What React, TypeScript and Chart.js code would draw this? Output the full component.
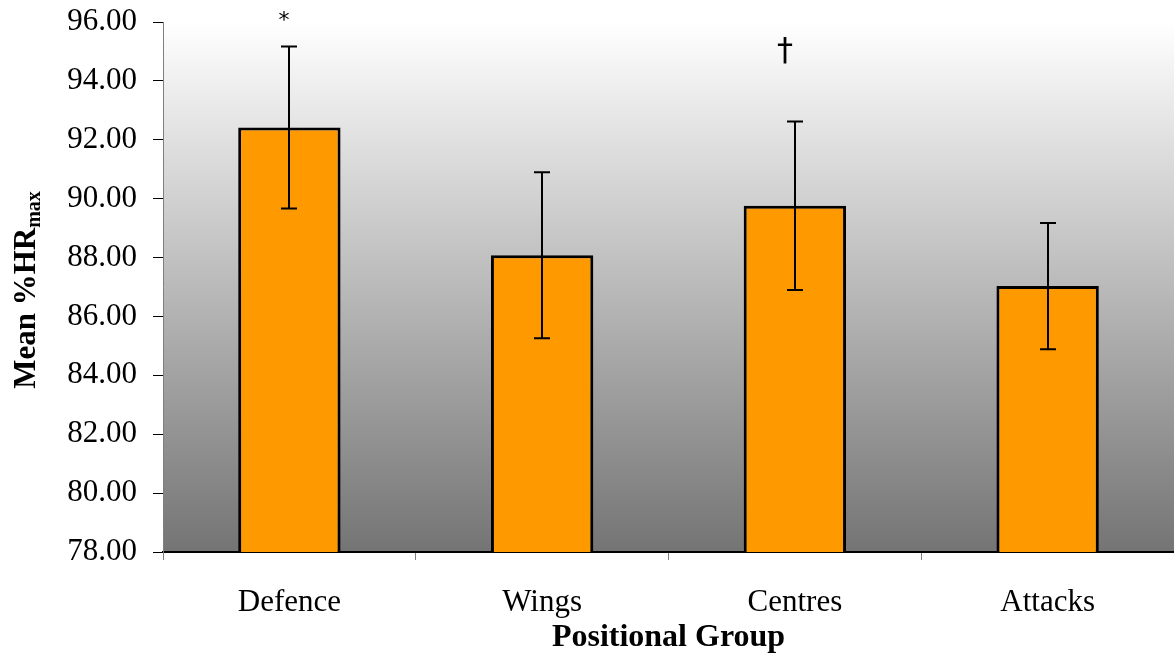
import React, { useEffect, useRef } from "react";
import { Chart, registerables } from "chart.js";

Chart.register(...registerables);

const categories = ["Defence", "Wings", "Centres", "Attacks"];
const meanHR = [92.42, 88.08, 89.76, 87.03];
const sdHR = [2.75, 2.82, 2.86, 2.14];
const markers = ["*", "", "†", ""];
const yTicks = [78, 80, 82, 84, 86, 88, 90, 92, 94, 96];

const SERIF = '"Liberation Serif", "Times New Roman", serif';

const decorPlugin = {
  id: "decor",
  beforeDraw(chart: any) {
    const { ctx, chartArea } = chart;
    const g = ctx.createLinearGradient(0, chartArea.top, 0, chartArea.bottom);
    g.addColorStop(0, "#ffffff");
    g.addColorStop(1, "#747474");
    ctx.save();
    ctx.fillStyle = g;
    ctx.fillRect(chartArea.left, chartArea.top, chartArea.right - chartArea.left, chartArea.bottom - chartArea.top);
    ctx.restore();
  },
  afterDatasetsDraw(chart: any) {
    const { ctx, scales } = chart;
    const meta = chart.getDatasetMeta(0);
    ctx.save();
    ctx.strokeStyle = "#000";
    ctx.lineWidth = 2;
    meta.data.forEach((bar: any, i: number) => {
      const x = Math.round(bar.x);
      const yTop = scales.y.getPixelForValue(meanHR[i] + sdHR[i]);
      const yBot = scales.y.getPixelForValue(meanHR[i] - sdHR[i]);
      ctx.beginPath();
      ctx.moveTo(x, yTop);
      ctx.lineTo(x, yBot);
      ctx.moveTo(x - 8, yTop);
      ctx.lineTo(x + 8, yTop);
      ctx.moveTo(x - 8, yBot);
      ctx.lineTo(x + 8, yBot);
      ctx.stroke();
      const m = markers[i];
      if (m) {
        ctx.fillStyle = "#000";
        ctx.textAlign = "center";
        ctx.textBaseline = "middle";
        if (m === "*") {
          ctx.font = '22px "DejaVu Sans", sans-serif';
          ctx.fillText(m, x - 5, yTop - 25);
        } else {
          ctx.font = '32px "DejaVu Sans", sans-serif';
          ctx.fillText(m, x - 10, yTop - 70);
        }
      }
    });
    ctx.restore();
  },
  afterDraw(chart: any) {
    const { ctx, chartArea } = chart;
    ctx.save();
    // y-axis title with subscript
    const cy = (chartArea.top + chartArea.bottom) / 2 + 3;
    ctx.translate(27, cy);
    ctx.rotate(-Math.PI / 2);
    ctx.fillStyle = "#000";
    ctx.textBaseline = "middle";
    const main = "Mean %HR";
    const sub = "max";
    ctx.font = `bold 31px ${SERIF}`;
    const wMain = ctx.measureText(main).width;
    ctx.font = `bold 20px ${SERIF}`;
    const wSub = ctx.measureText(sub).width;
    const start = -(wMain + wSub) / 2;
    ctx.textAlign = "left";
    ctx.font = `bold 31px ${SERIF}`;
    ctx.fillText(main, start, 0);
    ctx.font = `bold 20px ${SERIF}`;
    ctx.fillText(sub, start + wMain, 8);
    ctx.restore();
  },
};

export default function App() {
  const ref = useRef<HTMLCanvasElement>(null);
  useEffect(() => {
    if (!ref.current) return;
    const chart = new Chart(ref.current, {
      type: "bar",
      data: {
        labels: categories,
        datasets: [
          {
            data: meanHR,
            backgroundColor: "#FF9900",
            borderColor: "#000000",
            borderWidth: 3,
            borderSkipped: false,
            categoryPercentage: 1,
            barPercentage: 0.405,
          },
        ],
      },
      options: {
        animation: false,
        responsive: false,
        maintainAspectRatio: false,
        layout: { padding: { top: 22, right: 0, left: 0, bottom: 0 } },
        plugins: { legend: { display: false }, tooltip: { enabled: false } },
        scales: {
          x: {
            offset: true,
            grid: {
              offset: true,
              drawOnChartArea: false,
              drawTicks: true,
              tickLength: 8,
              color: "#808080",
            },
            border: { color: "#000000", width: 2 },
            ticks: {
              color: "#000",
              font: { family: SERIF, size: 31 },
              padding: 24,
            },
            title: {
              display: true,
              text: "Positional Group",
              color: "#000",
              font: { family: SERIF, size: 32, weight: "bold" },
              padding: { top: 0, bottom: -4 },
            },
            afterFit(scale: any) {
              scale.height = 101;
              scale.paddingLeft = 0;
              scale.paddingRight = 0;
            },
          },
          y: {
            min: 78,
            max: 96,
            afterBuildTicks(scale: any) {
              scale.ticks = yTicks.map((v) => ({ value: v }));
            },
            grid: {
              drawOnChartArea: false,
              drawTicks: true,
              tickLength: 10,
              color: "#000",
            },
            border: { color: "#808080", width: 1 },
            ticks: {
              color: "#000",
              font: { family: SERIF, size: 31 },
              padding: 16,
              callback: (v: any) => Number(v).toFixed(2),
            },
            afterFit(scale: any) {
              scale.width = 163;
              scale.paddingTop = 0;
              scale.paddingBottom = 0;
            },
          },
        },
      },
      plugins: [decorPlugin],
    });
    return () => chart.destroy();
  }, []);
  return (
    <div style={{ position: "fixed", left: 0, top: 0, width: 1174, height: 653, background: "#fff" }}>
      <canvas ref={ref} width={1174} height={653} style={{ display: "block" }} />
    </div>
  );
}
